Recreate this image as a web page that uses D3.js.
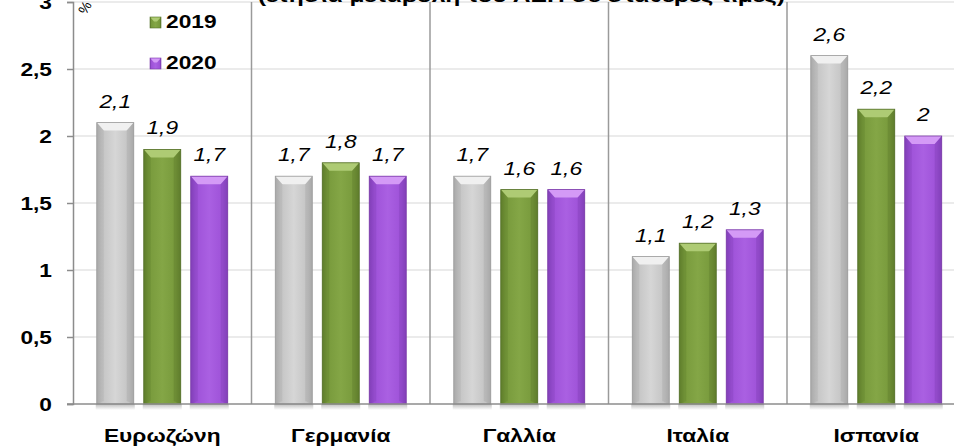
<!DOCTYPE html>
<html>
<head>
<meta charset="utf-8">
<script src="https://cdn.jsdelivr.net/npm/d3@7"></script>
<style>
  html, body { margin: 0; padding: 0; background: #fff; }
  svg { display: block; font-family: "Liberation Sans", Arial, sans-serif; }
</style>
</head>
<body>
<svg id="chart" width="954" height="446"></svg>
<script>
// Countries and yearly values (%)
const categories = ["Ευρωζώνη", "Γερμανία", "Γαλλία", "Ιταλία", "Ισπανία"];
const years = ["2018", "2019", "2020"];
const values2018 = [2.1, 1.7, 1.7, 1.1, 2.6];
const values2019 = [1.9, 1.8, 1.6, 1.2, 2.2];
const values2020 = [1.7, 1.7, 1.6, 1.3, 2.0];
const yTicks = [0, 0.5, 1, 1.5, 2, 2.5, 3];
const titleText = "(ετήσια μεταβολή του ΑΕΠ σε σταθερές τιμές)";

const seriesValues = [values2018, values2019, values2020];
const palette = {
  "2018": { base: "#c4c4c4", light: "#d6d6d6", dark: "#a9a9a9", top: "#f0f0f0", stroke: "#9a9a9a" },
  "2019": { base: "#789a3c", light: "#84a646", dark: "#5f7d2c", top: "#aecb74", stroke: "#55702a" },
  "2020": { base: "#9e52d8", light: "#aa60e2", dark: "#8240b8", top: "#d49af6", stroke: "#7a3aa8" }
};

const fmt = v => String(v).replace(".", ",");
const FS = 17.5;      // text size
const SX = 1.3;       // horizontal widening of the lettering
const wide = (tx, ty) => `translate(${tx},${ty}) scale(${SX},1)`;

const svg = d3.select("#chart");
const left = 73, bandW = 178.5;
const x = d3.scaleBand().domain(categories).range([left, left + bandW * categories.length]).padding(0);
const xs = d3.scaleBand().domain(years).range([0, x.bandwidth()]).paddingInner(10 / 47).paddingOuter(0.506);
const y = d3.scaleLinear().domain([0, 3]).range([404, 2]);

const defs = svg.append("defs");
years.forEach(yr => {
  const c = palette[yr];
  const g = defs.append("linearGradient").attr("id", "grad" + yr)
    .attr("x1", "0%").attr("x2", "100%").attr("y1", "0%").attr("y2", "0%");
  g.append("stop").attr("offset", "0%").attr("stop-color", c.dark);
  g.append("stop").attr("offset", "14%").attr("stop-color", c.base);
  g.append("stop").attr("offset", "50%").attr("stop-color", c.light);
  g.append("stop").attr("offset", "86%").attr("stop-color", c.base);
  g.append("stop").attr("offset", "100%").attr("stop-color", c.dark);
});
const sh = defs.append("linearGradient").attr("id", "shadow")
  .attr("x1", "0%").attr("x2", "0%").attr("y1", "0%").attr("y2", "100%");
sh.append("stop").attr("offset", "0%").attr("stop-color", "#888").attr("stop-opacity", 0.55);
sh.append("stop").attr("offset", "100%").attr("stop-color", "#888").attr("stop-opacity", 0);

// Gridlines
svg.append("g").selectAll("line").data(yTicks.filter(t => t > 0)).join("line")
  .attr("x1", left).attr("x2", 954)
  .attr("y1", d => y(d)).attr("y2", d => y(d))
  .attr("stroke", "#e4e4e4").attr("stroke-width", 1.5);

// Category separators
svg.append("g").selectAll("line").data(categories.slice(1)).join("line")
  .attr("x1", d => x(d)).attr("x2", d => x(d))
  .attr("y1", y(3)).attr("y2", y(0))
  .attr("stroke", "#9a9a9a").attr("stroke-width", 1.5);

// Y axis
const yAxis = d3.axisLeft(y).tickValues(yTicks).tickSize(6).tickFormat(fmt);
const ya = svg.append("g").attr("transform", `translate(${left},0)`).call(yAxis);
ya.select(".domain").attr("stroke", "#8c8c8c").attr("stroke-width", 1.5);
ya.selectAll(".tick line").attr("stroke", "#8c8c8c").attr("stroke-width", 1.5);
ya.selectAll(".tick text").attr("fill", "#000").attr("font-size", FS).attr("font-weight", "bold")
  .attr("font-family", "Liberation Sans, Arial, sans-serif")
  .attr("x", 0).attr("dy", "0.36em").attr("transform", wide(-21, 0));

// Bars
const groups = svg.append("g").selectAll("g").data(categories).join("g")
  .attr("transform", d => `translate(${x(d)},0)`);

groups.each(function(cat, ci) {
  const g = d3.select(this);
  years.forEach((yr, si) => {
    const v = seriesValues[si][ci];
    const bx = xs(yr), bw = xs.bandwidth();
    const top = y(v), bottom = y(0);
    const c = palette[yr];
    // soft shadow under the bar
    g.append("rect").attr("x", bx - 1).attr("y", bottom).attr("width", bw + 2).attr("height", 6)
      .attr("fill", "url(#shadow)");
    g.append("rect").attr("x", bx).attr("y", top).attr("width", bw).attr("height", bottom - top)
      .attr("fill", `url(#grad${yr})`);
    // bevelled top edge and shaded sides
    const bev = 8, inset = 7;
    g.append("path")
      .attr("d", `M${bx},${top} L${bx + bw},${top} L${bx + bw - inset},${top + bev} L${bx + inset},${top + bev} Z`)
      .attr("fill", c.top);
    g.append("path")
      .attr("d", `M${bx},${top} L${bx + inset},${top + bev} L${bx + inset},${bottom - 3} L${bx},${bottom} Z`)
      .attr("fill", c.dark).attr("opacity", 0.35);
    g.append("path")
      .attr("d", `M${bx + bw},${top} L${bx + bw - inset},${top + bev} L${bx + bw - inset},${bottom - 3} L${bx + bw},${bottom} Z`)
      .attr("fill", c.dark).attr("opacity", 0.45);
    g.append("rect").attr("x", bx).attr("y", top).attr("width", bw).attr("height", bottom - top)
      .attr("fill", "none").attr("stroke", c.stroke).attr("stroke-width", 0.8);
    // value label
    g.append("text").attr("transform", wide(bx + bw / 2, top - 15))
      .attr("text-anchor", "middle").attr("font-size", FS).attr("font-style", "italic")
      .attr("fill", "#000").text(fmt(v));
  });
});

// X axis baseline
svg.append("line").attr("x1", left - 6).attr("x2", 954).attr("y1", y(0)).attr("y2", y(0))
  .attr("stroke", "#8c8c8c").attr("stroke-width", 1.5);

// Category labels
svg.append("g").selectAll("text").data(categories).join("text")
  .attr("transform", d => wide(x(d) + x.bandwidth() / 2, 442))
  .attr("text-anchor", "middle").attr("font-size", FS).attr("font-weight", "bold")
  .attr("fill", "#000").text(d => d);

// Title
svg.append("text").attr("x", 258).attr("y", 2)
  .attr("textLength", 527).attr("lengthAdjust", "spacingAndGlyphs")
  .attr("font-size", FS).attr("font-weight", "bold").text(titleText);

// Unit label
svg.append("text").attr("transform", "translate(89,10) rotate(-60)")
  .attr("font-size", 14).attr("text-anchor", "middle").text("%");

// Legend
const legend = svg.append("g").selectAll("g").data(years).join("g")
  .attr("transform", (d, i) => `translate(150,${-19 + i * 41})`);
legend.append("rect").attr("x", 0).attr("y", -5).attr("width", 11).attr("height", 11)
  .attr("fill", d => `url(#grad${d})`).attr("stroke", d => palette[d].stroke).attr("stroke-width", 0.6);
legend.append("path").attr("d", "M0.5,-4.5 L10.5,-4.5 L7,-0.5 L4,-0.5 Z")
  .attr("fill", d => palette[d].top);
legend.append("text").attr("transform", wide(16, 0)).attr("dy", "0.36em")
  .attr("font-size", FS).attr("font-weight", "bold").text(d => d);
</script>
</body>
</html>
